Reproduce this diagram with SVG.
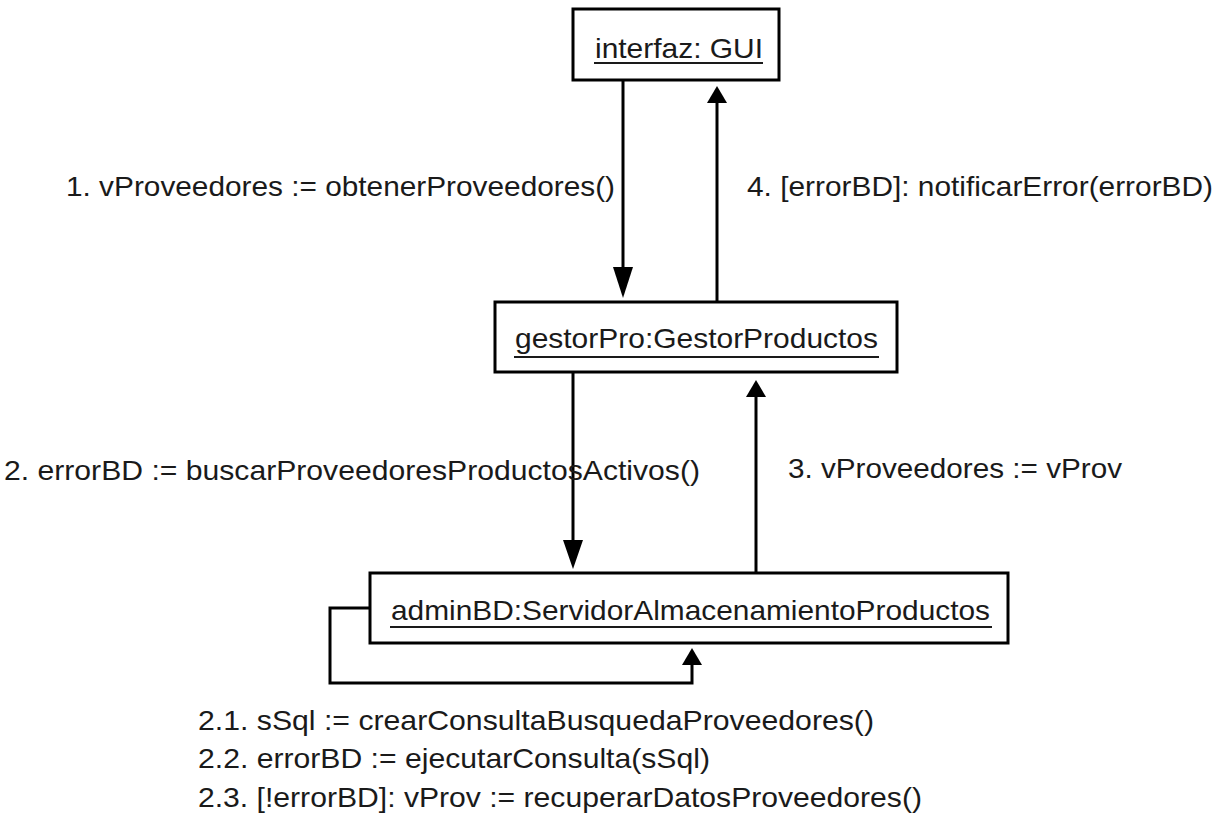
<svg xmlns="http://www.w3.org/2000/svg" width="1224" height="825" viewBox="0 0 1224 825">
  <style>
    .box { fill: #ffffff; stroke: #000000; stroke-width: 3; }
    .name { font-family: "Liberation Sans", Arial, sans-serif; font-size: 28px; fill: #1a1a1a; }
    .uline { stroke: #1a1a1a; stroke-width: 2; }
    .msg { font-family: "Liberation Sans", Arial, sans-serif; font-size: 28px; fill: #1a1a1a; }
    .conn { fill: none; stroke: #000000; stroke-width: 3; }
    .head { fill: #000000; stroke: none; }
  </style>
  <rect width="1224" height="825" fill="#ffffff"/>

  <!-- object nodes -->
  <g id="node-interfaz">
    <rect class="box" x="573" y="9" width="206" height="71"/>
    <text class="name" x="595" y="58" textLength="168" lengthAdjust="spacingAndGlyphs">interfaz: GUI</text>
    <line class="uline" x1="594" y1="63" x2="763" y2="63"/>
  </g>
  <g id="node-gestorPro">
    <rect class="box" x="495" y="302" width="402" height="70"/>
    <text class="name" x="515" y="348" textLength="363" lengthAdjust="spacingAndGlyphs">gestorPro:GestorProductos</text>
    <line class="uline" x1="514" y1="357" x2="879" y2="357"/>
  </g>
  <g id="node-adminBD">
    <rect class="box" x="370" y="573" width="638" height="70"/>
    <text class="name" x="391" y="620" textLength="599" lengthAdjust="spacingAndGlyphs">adminBD:ServidorAlmacenamientoProductos</text>
    <line class="uline" x1="390" y1="627" x2="992" y2="627"/>
  </g>

  <!-- message links -->
  <g id="connectors">
    <!-- 1: GUI -> gestorPro -->
    <line class="conn" x1="623" y1="80" x2="623" y2="272"/>
    <polygon class="head" points="613,267 633,267 623,298"/>
    <!-- 4: gestorPro -> GUI -->
    <line class="conn" x1="717" y1="302" x2="717" y2="100"/>
    <polygon class="head" points="717,86 727,103 707,103"/>
    <!-- 2: gestorPro -> adminBD -->
    <line class="conn" x1="573" y1="372" x2="573" y2="545"/>
    <polygon class="head" points="563,540 583,540 573,569"/>
    <!-- 3: adminBD -> gestorPro -->
    <line class="conn" x1="756" y1="573" x2="756" y2="395"/>
    <polygon class="head" points="756,380 766,397 746,397"/>
    <!-- 2.1-2.3: self call on adminBD -->
    <polyline class="conn" points="370,608 330,608 330,683 692,683 692,662"/>
    <polygon class="head" points="692,648 702,665 682,665"/>
  </g>

  <!-- message labels -->
  <g id="labels">
    <text class="msg" x="66" y="196" textLength="549" lengthAdjust="spacingAndGlyphs">1. vProveedores := obtenerProveedores()</text>
    <text class="msg" x="747" y="196" textLength="466" lengthAdjust="spacingAndGlyphs">4. [errorBD]: notificarError(errorBD)</text>
    <text class="msg" x="4" y="480" textLength="696" lengthAdjust="spacingAndGlyphs">2. errorBD := buscarProveedoresProductosActivos()</text>
    <text class="msg" x="788" y="478" textLength="334" lengthAdjust="spacingAndGlyphs">3. vProveedores := vProv</text>
    <text class="msg" x="198" y="730" textLength="676" lengthAdjust="spacingAndGlyphs">2.1. sSql := crearConsultaBusquedaProveedores()</text>
    <text class="msg" x="198" y="768" textLength="512" lengthAdjust="spacingAndGlyphs">2.2. errorBD := ejecutarConsulta(sSql)</text>
    <text class="msg" x="198" y="807" textLength="724" lengthAdjust="spacingAndGlyphs">2.3. [!errorBD]: vProv := recuperarDatosProveedores()</text>
  </g>
</svg>
